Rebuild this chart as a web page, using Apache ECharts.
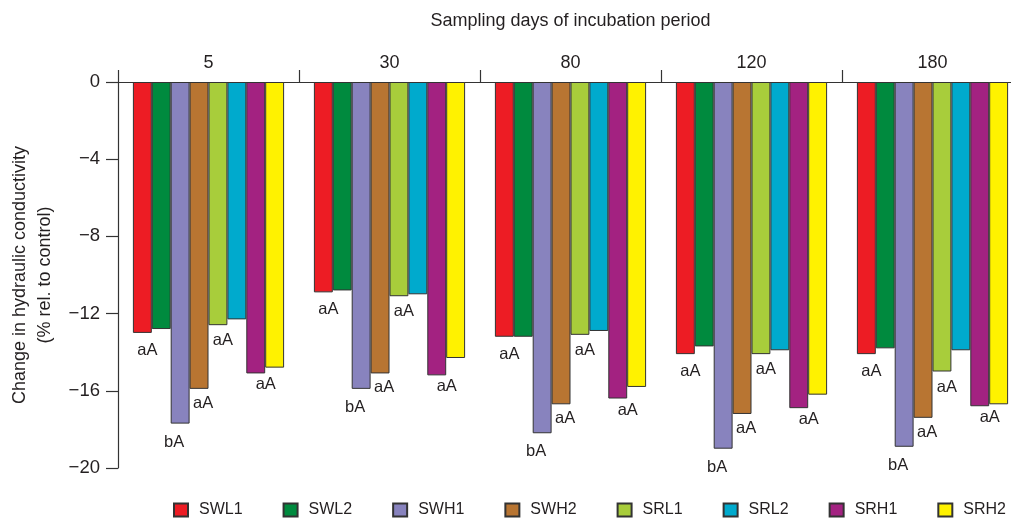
<!DOCTYPE html>
<html>
<head>
<meta charset="utf-8">
<title>Change in hydraulic conductivity</title>
<script src="https://cdn.jsdelivr.net/npm/echarts@6/dist/echarts.min.js"></script>
<style>
  html, body { margin: 0; padding: 0; background: #fff; }
  #chart { width: 1011px; height: 523px; }
</style>
</head>
<body>
<div id="chart"></div>
<script>
// Sampling days (categories)
const days = ['5', '30', '80', '120', '180'];

// Change in hydraulic conductivity (% rel. to control) per treatment
const SWL1 = [-13.0, -10.9, -13.2, -14.1, -14.1];
const SWL2 = [-12.8, -10.8, -13.2, -13.7, -13.8];
const SWH1 = [-17.7, -15.9, -18.2, -19.0, -18.9];
const SWH2 = [-15.9, -15.1, -16.7, -17.2, -17.4];
const SRL1 = [-12.6, -11.1, -13.1, -14.1, -15.0];
const SRL2 = [-12.3, -11.0, -12.9, -13.9, -13.9];
const SRH1 = [-15.1, -15.2, -16.4, -16.9, -16.8];
const SRH2 = [-14.8, -14.3, -15.8, -16.2, -16.7];

// Significance letters shown under the bars
const lettersSWL1 = ['aA', 'aA', 'aA', 'aA', 'aA'];
const lettersSWH1 = ['bA', 'bA', 'bA', 'bA', 'bA'];
const lettersSWH2 = ['aA', 'aA', 'aA', 'aA', 'aA'];
const lettersSRL1 = ['aA', 'aA', 'aA', 'aA', 'aA'];
const lettersSRH1 = ['aA', 'aA', 'aA', 'aA', 'aA'];

// Y axis ticks
const yMin = -20, yMax = 0, yStep = 4;

const FONT = "'Liberation Sans', Arial, Helvetica, sans-serif";
const INK = '#231f20';

const treatments = [
  { name: 'SWL1', values: SWL1, color: '#ed1c24', letters: lettersSWL1, offset: [5, 3] },
  { name: 'SWL2', values: SWL2, color: '#008a3e' },
  { name: 'SWH1', values: SWH1, color: '#8883be', letters: lettersSWH1, offset: [-6, 4] },
  { name: 'SWH2', values: SWH2, color: '#b87532', letters: lettersSWH2, offset: [4, 0] },
  { name: 'SRL1', values: SRL1, color: '#a8cd3b', letters: lettersSRL1, offset: [5, 1] },
  { name: 'SRL2', values: SRL2, color: '#00aacd' },
  { name: 'SRH1', values: SRH1, color: '#a32281', letters: lettersSRH1, offset: [10, -3] },
  { name: 'SRH2', values: SRH2, color: '#fff200' }
];

const series = treatments.map(t => ({
  name: t.name,
  type: 'bar',
  data: t.values,
  barWidth: 18.9,
  barGap: '0%',
  itemStyle: { color: t.color, borderColor: '#333', borderWidth: 1 },
  emphasis: { disabled: true },
  label: t.letters ? {
    show: true,
    position: 'bottom',
    distance: 6,
    offset: t.offset,
    formatter: p => t.letters[p.dataIndex],
    fontFamily: FONT,
    fontSize: 16.5,
    color: INK
  } : { show: false }
}));

const chart = echarts.init(document.getElementById('chart'), null, { renderer: 'canvas' });
chart.setOption({
  animation: false,
  backgroundColor: '#fff',
  textStyle: { fontFamily: FONT, color: INK },
  grid: { left: 118, right: -12, top: 82, bottom: 55, containLabel: false, outerBoundsMode: 'none' },
  legend: {
    data: treatments.map(t => t.name),
    left: 173,
    top: 502,
    width: 840,
    padding: 0,
    itemWidth: 14,
    itemHeight: 13,
    itemGap: 40,
    icon: 'rect',
    textStyle: { fontFamily: FONT, fontSize: 16, color: INK, padding: [0, 0, 0, 6] },
    selectedMode: false
  },
  xAxis: {
    type: 'category',
    position: 'top',
    data: days,
    name: 'Sampling days of incubation period',
    nameLocation: 'middle',
    nameGap: 52,
    nameTextStyle: { fontFamily: FONT, fontSize: 18, color: INK },
    axisLine: { show: true, lineStyle: { color: '#333', width: 1.2 } },
    axisTick: { show: true, length: 12, inside: false, lineStyle: { color: '#333', width: 1.2 } },
    axisLabel: { margin: 10, fontFamily: FONT, fontSize: 18, color: INK },
    splitLine: { show: false }
  },
  yAxis: {
    type: 'value',
    min: yMin,
    max: yMax,
    interval: yStep,
    name: 'Change in hydraulic conductivity\n(% rel. to control)',
    nameLocation: 'middle',
    nameGap: 60,
    nameRotate: 90,
    nameTextStyle: { fontFamily: FONT, fontSize: 18, lineHeight: 25, color: INK, align: 'center' },
    axisLine: { show: true, lineStyle: { color: '#333', width: 1.2 } },
    axisTick: { show: true, length: 12, inside: false, lineStyle: { color: '#333', width: 1.2 } },
    axisLabel: {
      margin: 18,
      fontFamily: FONT,
      fontSize: 18.5,
      color: INK,
      formatter: v => (v < 0 ? '\u2212' + Math.abs(v) : String(v))
    },
    splitLine: { show: false }
  },
  series: series
});
</script>
</body>
</html>
